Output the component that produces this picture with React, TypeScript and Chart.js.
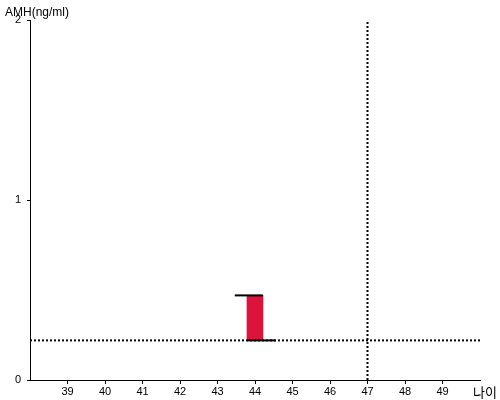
import React, { useEffect, useRef } from "react";
import { Chart, registerables } from "chart.js";

Chart.register(...registerables);

const xTickValues = [39, 40, 41, 42, 43, 44, 45, 46, 47, 48, 49];
const yTickValues = [0, 1, 2];
const barAge = 44;
const barRange: [number, number] = [0.22, 0.47];
const topCapX = [43.46, 44.21];
const bottomCapX = [43.79, 44.55];
const refAmh = 0.22;
const refAge = 47;
const xRange = [38, 50];
const yRange = [0, 2];
const yTitle = "AMH(ng/ml)";
const xTitle = "나이";

const FONT = 'Arial, "Liberation Sans", sans-serif';

export default function App() {
  const ref = useRef<HTMLCanvasElement | null>(null);
  useEffect(() => {
    if (!ref.current) return;
    const titlePlugin = {
      id: "titles",
      afterDraw(chart: any) {
        const ctx = chart.ctx;
        ctx.save();
        ctx.fillStyle = "#000";
        ctx.textBaseline = "alphabetic";
        ctx.textAlign = "left";
        ctx.font = `12px ${FONT}`;
        ctx.fillText(yTitle, 5, 16);
        ctx.font = `13px "Noto Sans CJK KR", sans-serif`;
        ctx.fillText(xTitle, 473, 397);
        ctx.restore();
      },
    };
    const black = "#000";
    const chart = new Chart(ref.current, {
      type: "bar",
      data: {
        datasets: [
          {
            type: "bar",
            data: [{ x: barAge, y: barRange }] as any,
            backgroundColor: "#DC143C",
            barThickness: 16,
            order: 5,
          } as any,
          {
            type: "line",
            data: [
              { x: topCapX[0], y: barRange[1] },
              { x: topCapX[1], y: barRange[1] },
            ],
            borderColor: black,
            borderWidth: 2,
            pointRadius: 0,
            order: 1,
          },
          {
            type: "line",
            data: [
              { x: bottomCapX[0], y: barRange[0] },
              { x: bottomCapX[1], y: barRange[0] },
            ],
            borderColor: black,
            borderWidth: 2,
            pointRadius: 0,
            order: 1,
          },
          {
            type: "line",
            data: [
              { x: xRange[0], y: refAmh },
              { x: xRange[1], y: refAmh },
            ],
            borderColor: black,
            borderWidth: 2,
            borderDash: [2, 2],
            pointRadius: 0,
            order: 2,
          },
          {
            type: "line",
            data: [
              { x: refAge, y: yRange[0] },
              { x: refAge, y: yRange[1] },
            ],
            borderColor: black,
            borderWidth: 2,
            borderDash: [2, 2],
            pointRadius: 0,
            order: 2,
          },
        ],
      },
      options: {
        responsive: false,
        animation: false,
        layout: { padding: { top: 20, right: 20, left: 0, bottom: 0 } },
        plugins: {
          legend: { display: false },
          tooltip: { enabled: false },
        },
        scales: {
          x: {
            type: "linear",
            offset: false,
            min: xRange[0],
            max: xRange[1],
            afterBuildTicks: (s: any) => {
              s.ticks = xTickValues.map((v) => ({ value: v }));
            },
            afterFit: (s: any) => {
              s.height = 20;
            },
            grid: {
              offset: false,
              drawOnChartArea: false,
              drawTicks: true,
              tickLength: 4,
              color: black,
            },
            border: { display: true, color: black, width: 1 },
            ticks: {
              color: black,
              font: { size: 11, family: FONT },
              padding: 1,
              maxRotation: 0,
              autoSkip: false,
              callback: (v: any) => String(v),
            },
          },
          y: {
            type: "linear",
            min: yRange[0],
            max: yRange[1],
            afterBuildTicks: (s: any) => {
              s.ticks = yTickValues.map((v) => ({ value: v }));
            },
            afterFit: (s: any) => {
              s.width = 30;
            },
            grid: {
              drawOnChartArea: false,
              drawTicks: true,
              tickLength: 3,
              color: black,
            },
            border: { display: true, color: black, width: 1 },
            ticks: {
              color: black,
              font: { size: 11, family: FONT },
              padding: 6,
              callback: (v: any) => String(v),
            },
          },
        },
      } as any,
      plugins: [titlePlugin],
    });
    return () => chart.destroy();
  }, []);
  return (
    <div style={{ position: "fixed", left: 0, top: 0, width: 500, height: 400, background: "#fff" }}>
      <canvas ref={ref} width={500} height={400} />
    </div>
  );
}
